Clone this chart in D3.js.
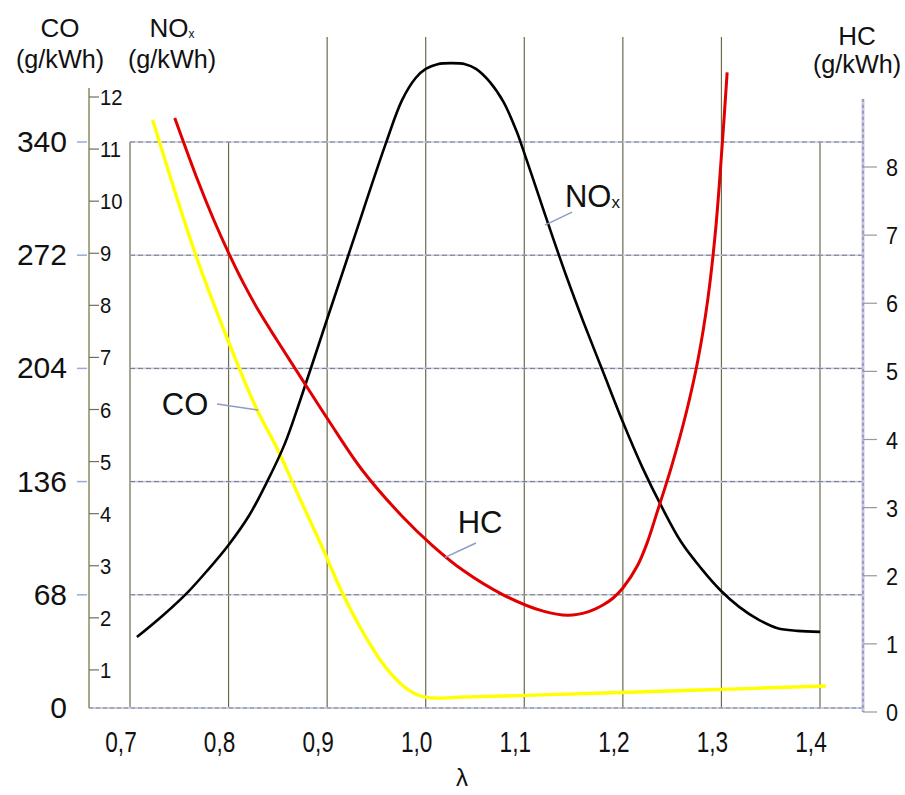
<!DOCTYPE html>
<html><head><meta charset="utf-8">
<script src="https://cdn.jsdelivr.net/npm/d3@7"></script>
<style>body{margin:0;background:#fff}svg{display:block}text{font-family:"Liberation Sans",Arial,sans-serif;fill:#111}</style>
</head><body><svg id="c" width="905" height="795"></svg>
<script>
// ---- data ----
const lambdaTicks = [0.7, 0.8, 0.9, 1.0, 1.1, 1.2, 1.3, 1.4];
const tallGridLambda = [0.9, 1.0, 1.1, 1.2, 1.3];
const coTicks = [0, 68, 136, 204, 272, 340];
const noxTicks = [1, 2, 3, 4, 5, 6, 7, 8, 9, 10, 11, 12];
const hcTicks = [0, 1, 2, 3, 4, 5, 6, 7, 8];

const coLambda = [0.723, 0.766, 0.798, 0.828, 0.849, 0.873, 0.894, 0.914, 0.935, 0.956, 0.976, 0.992, 1.007, 1.038, 1.079, 1.180, 1.279, 1.406];
const coValues = [353.2, 273.3, 222.9, 180.2, 156.2, 124.9, 97.9, 70.9, 46.9, 27.0, 13.8, 7.8, 6.0, 6.6, 7.2, 9.0, 10.8, 13.2];

const noxLambda = [0.707, 0.733, 0.759, 0.779, 0.800, 0.821, 0.839, 0.857, 0.872, 0.899, 0.925, 0.959, 0.976, 0.990, 1.000, 1.012, 1.026, 1.040, 1.051, 1.065, 1.079, 1.092, 1.099, 1.114, 1.129, 1.144, 1.1596, 1.180, 1.200, 1.220, 1.240, 1.259, 1.279, 1.299, 1.318, 1.338, 1.357, 1.377, 1.400];
const noxValues = [1.63, 2.04, 2.50, 2.92, 3.40, 3.97, 4.61, 5.34, 6.14, 7.68, 9.16, 11.08, 11.94, 12.37, 12.54, 12.63, 12.65, 12.63, 12.54, 12.29, 11.90, 11.35, 10.98, 10.14, 9.30, 8.49, 7.70, 6.72, 5.76, 4.88, 4.11, 3.46, 2.96, 2.53, 2.21, 1.96, 1.80, 1.75, 1.73];

const hcLambda = [0.7454, 0.7691, 0.7845, 0.8000, 0.8156, 0.8313, 0.8490, 0.8729, 0.9010, 0.9351, 0.9763, 1.0071, 1.0378, 1.0786, 1.1192, 1.1444, 1.1646, 1.1798, 1.1899, 1.2000, 1.2149, 1.2248, 1.2347, 1.2495, 1.2644, 1.2762, 1.2861, 1.2941, 1.3010, 1.3058];
const hcValues = [8.72, 7.79, 7.24, 6.74, 6.28, 5.87, 5.46, 4.92, 4.29, 3.56, 2.87, 2.44, 2.08, 1.72, 1.48, 1.42, 1.47, 1.57, 1.67, 1.82, 2.15, 2.49, 2.93, 3.61, 4.40, 5.17, 6.05, 7.08, 8.37, 9.39];

// curve labels: text, label position (lambda, value), leader from/to (lambda, value)
const labelNames = ["CO", "HC", "NO"];
const labelLambda = [0.7558, 1.0551, 1.1413];
const labelValues = [176.0, 2.63, 9.89];           // CO scale, HC scale, NOx scale
const leaderFrom = [[0.7883, 182.6], [1.0196, 2.27], [1.1210, 9.54]];
const leaderTo   = [[0.8299, 179.0], [1.0510, 2.48], [1.1484, 9.79]];

// ---- layout ----
const W = 905, H = 795;
const plotLeft = 89, plotRight = 863, plotBottom = 708, gridTop = 37;
const svg = d3.select("#c");
svg.append("rect").attr("width", W).attr("height", H).attr("fill", "#fff");

const x = d3.scaleLinear().domain([0.7, 1.4]).range([130, 820]);
const yCO = d3.scaleLinear().domain([0, 340]).range([708, 142]);
const yNOx = d3.scaleLinear().domain([0, 12]).range([722, 97]);
const yHC = d3.scaleLinear().domain([0, 8]).range([712, 167]);

const g = svg.append("g");

// vertical grid
g.selectAll("line.vg").data(lambdaTicks).join("line")
  .attr("x1", d => x(d)).attr("x2", d => x(d))
  .attr("y1", d => tallGridLambda.includes(d) ? gridTop : yCO(340))
  .attr("y2", plotBottom)
  .attr("stroke", "#6d6a4c").attr("stroke-width", 1.2);

// horizontal grid (CO levels), light blue + dark dashes
const hLines = coTicks.filter(d => d > 0);
g.selectAll("line.hg1").data(hLines).join("line")
  .attr("x1", x(0.7)).attr("x2", plotRight)
  .attr("y1", d => yCO(d)).attr("y2", d => yCO(d))
  .attr("stroke", "#c3cbf0").attr("stroke-width", 1.6);
g.selectAll("line.hg2").data(hLines).join("line")
  .attr("x1", x(0.7)).attr("x2", plotRight)
  .attr("y1", d => yCO(d)).attr("y2", d => yCO(d))
  .attr("stroke", "#7a786a").attr("stroke-width", 1).attr("stroke-dasharray", "5,3");

// baseline
g.append("line").attr("x1", plotLeft).attr("x2", plotRight).attr("y1", yCO(0)).attr("y2", yCO(0))
  .attr("stroke", "#c3cbf0").attr("stroke-width", 2);
g.append("line").attr("x1", plotLeft).attr("x2", plotRight).attr("y1", yCO(0)).attr("y2", yCO(0))
  .attr("stroke", "#88867a").attr("stroke-width", 1).attr("stroke-dasharray", "4,3");

// NOx axis line
g.append("line").attr("x1", plotLeft).attr("x2", plotLeft).attr("y1", 88).attr("y2", plotBottom)
  .attr("stroke", "#8b8a62").attr("stroke-width", 1.5);
// HC axis line
g.append("line").attr("x1", plotRight).attr("x2", plotRight).attr("y1", yHC(9)).attr("y2", yHC(0))
  .attr("stroke", "#c4c4ef").attr("stroke-width", 3);
g.append("line").attr("x1", plotRight).attr("x2", plotRight).attr("y1", yHC(9)).attr("y2", yHC(0))
  .attr("stroke", "#7d7b62").attr("stroke-width", 1).attr("stroke-dasharray", "3,3");

function label(sel, tx, ty, s, size, anchor, sx) {
  return sel.append("text").attr("transform", `translate(${tx},${ty}) scale(${sx},1)`)
    .attr("text-anchor", anchor).attr("font-size", size).text(s);
}

// CO axis ticks + labels
coTicks.forEach(d => {
  if (d > 0) g.append("line").attr("x1", 77).attr("x2", 87).attr("y1", yCO(d)).attr("y2", yCO(d))
    .attr("stroke", "#9aaad8").attr("stroke-width", 1.5);
  label(g, 67, yCO(d) + 10, String(d), 30, "end", 1);
});
// NOx ticks
noxTicks.forEach(d => {
  g.append("line").attr("x1", plotLeft).attr("x2", 99).attr("y1", yNOx(d)).attr("y2", yNOx(d))
    .attr("stroke", "#6f6e5a").attr("stroke-width", 1.2);
  label(g, 100, yNOx(d) + 8, String(d), 22, "start", 0.92);
});
// HC ticks
hcTicks.forEach(d => {
  g.append("line").attr("x1", plotRight).attr("x2", 877).attr("y1", yHC(d)).attr("y2", yHC(d))
    .attr("stroke", "#999").attr("stroke-width", 1.2);
  label(g, 886, yHC(d) + 9, String(d), 24, "start", 0.9);
});
// x ticks
lambdaTicks.forEach(d => {
  label(g, x(d) - 9, 752, d.toFixed(1).replace(".", ","), 29, "middle", 0.78);
});
label(g, 462, 786, "λ", 24, "middle", 1);

// axis titles
label(g, 60, 37, "CO", 26, "middle", 1);
label(g, 60, 68, "(g/kWh)", 26, "middle", 0.97);
const nt = g.append("text").attr("transform", "translate(172,37)").attr("text-anchor", "middle").attr("font-size", 26);
nt.append("tspan").text("NO");
nt.append("tspan").attr("font-size", 12).attr("dy", 1).text("x");
label(g, 172, 68, "(g/kWh)", 26, "middle", 0.97);
label(g, 857, 45, "HC", 26, "middle", 1);
label(g, 857, 73, "(g/kWh)", 26, "middle", 0.97);

// curves
const curve = d3.curveCatmullRom.alpha(0.5);
const lineCO = d3.line().x((d, i) => x(coLambda[i])).y(d => yCO(d)).curve(curve);
const lineNOx = d3.line().x((d, i) => x(noxLambda[i])).y(d => yNOx(d)).curve(curve);
const lineHC = d3.line().x((d, i) => x(hcLambda[i])).y(d => yHC(d)).curve(curve);

g.append("path").attr("d", lineCO(coValues)).attr("fill", "none").attr("stroke", "#ffff00").attr("stroke-width", 3.4);
g.append("path").attr("d", lineNOx(noxValues)).attr("fill", "none").attr("stroke", "#000").attr("stroke-width", 2.6);
g.append("path").attr("d", lineHC(hcValues)).attr("fill", "none").attr("stroke", "#e00000").attr("stroke-width", 3);

// curve labels with leaders
const yScales = [yCO, yHC, yNOx];
labelNames.forEach((name, i) => {
  const ys = yScales[i];
  g.append("line")
    .attr("x1", x(leaderFrom[i][0])).attr("y1", ys(leaderFrom[i][1]))
    .attr("x2", x(leaderTo[i][0])).attr("y2", ys(leaderTo[i][1]))
    .attr("stroke", "#8d9cc4").attr("stroke-width", 1.5);
  const t = g.append("text").attr("x", x(labelLambda[i])).attr("y", ys(labelValues[i]))
    .attr("text-anchor", i === 2 ? "start" : "middle").attr("font-size", 31).text(name);
  if (i === 2) t.append("tspan").attr("font-size", 17).attr("dy", 1).text("x");
});
</script></body></html>
